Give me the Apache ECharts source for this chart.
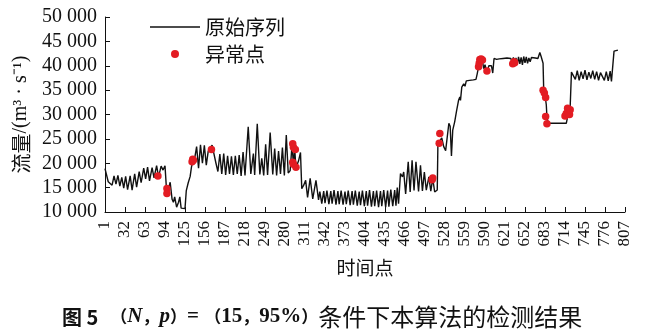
<!DOCTYPE html>
<html><head><meta charset="utf-8">
<script src="https://cdn.jsdelivr.net/npm/echarts@6/dist/echarts.min.js"></script>
<style>html,body{margin:0;padding:0;background:#fff;}#c{width:649px;height:336px;}</style>
</head><body><div id="c"></div>
<script>
// x-axis tick labels (time points)
const xTickLabels = [1,32,63,94,125,156,187,218,249,280,311,342,373,404,435,466,497,528,559,590,621,652,683,714,745,776,807];
// y-axis range
const yMin = 10000, yMax = 50000, yStep = 5000;
// original series: [time point, flow]
const flowSeries = [
[1,18900],[3,18700],[6,16200],[9,16600],[12,15500],[15,17400],[18,15700],[21,17500],[24,15300],[27,17100],[30,14900],[33,17300],[36,14600],[40,17400],[43,14500],[47,17800],[50,15100],[54,18300],[57,16000],[61,19000],[64,16800],[67,19200],[70,16400],[74,19100],[77,17000],[81,19500],[84,17200],[88,19400],[91,18600],[94,19500],
[96,15300],[99,14500],[102,16100],[105,12600],[107,12000],[109,13100],[112,11000],[115,12000],[117,13100],[119,10800],[125,10700],[127,14400],[130,16000],[133,17300],[135,19200],[137,20400],
[140,21000],[143,23400],[146,19000],[149,23800],[152,20000],[155,23700],[158,19600],[161,22500],[164,22600],[167,23700],[170,24000],[173,20000],[176,18300],[179,21900],[182,17800],[185,22000],[188,17600],[191,21500],[194,17800],[197,21400],[200,17600],[203,21500],[206,17800],[209,21700],[212,17400],[215,22300],[218,17500],[223,27500],[227,17800],[231,22000],[233,17600],[237,28100],[241,17700],[244,21000],[247,17500],[250,23900],[253,17600],[257,26300],[261,17700],[264,23000],[267,17500],[270,22500],[273,17800],
[276,23200],[279,17500],[282,25800],[285,18000],[288,18500],[291,24000],[293,19500],[295,23000],[297,19000],[299,18800],[301,20500],[304,22200],[306,14800],[309,15500],[312,16500],[315,13000],[319,16900],[323,12700],[328,16500],[332,12500],[334,14200],
[337,11700],[340,14300],[342,11800],[345,14400],[348,11600],[351,14300],[353,11700],[356,14500],[359,11500],[362,14300],[364,11600],[367,14400],[370,11500],[373,14200],[375,11600],[378,14400],[381,11400],[384,14300],[386,11500],[389,14400],[392,11300],[395,14200],[397,11400],[400,14400],[403,11200],[406,14300],[408,11300],[411,14500],[414,11100],[417,14300],[419,11200],[422,14400],[425,11000],[428,14300],[430,11200],[433,14500],[436,11000],[439,14400],[441,11100],[444,14600],[447,11200],[450,14500],[452,11300],[454,15000],[456,11700],
[459,17900],[462,17200],[464,18200],[467,13700],[471,20300],[474,14100],[477,20600],[480,14400],[483,20300],[487,14200],[490,19600],[493,14300],[496,18200],[499,14500],[503,17200],[506,14300],[509,16900],[512,14100],[516,14500],[517,24000],[520,23700],[523,25200],[526,23400],[529,22600],[532,23000],[534,28200],[536,27600],[538,21500],[540,26800],
[543,28500],[546,30800],[549,32900],[551,33600],[552,32900],[554,35600],[557,36300],[559,35800],[561,36900],[566,37000],[572,37100],[576,37200],[578,38400],[580,39800],[583,41500],[586,41000],[588,39400],[590,40200],[593,38700],[596,40000],[598,40400],[600,40000],[602,38500],[604,41500],[606,41800],[608,41300],[612,41400],[615,41100],[618,41500],[621,41300],[624,41600],[627,41200],[630,41500],[632,40800],[634,41700],[636,40500],[638,41600],[640,40300],[642,41800],[644,40400],[646,41700],[648,40200],[650,41900],[652,40600],[654,41800],[656,40500],[658,41600],[660,40800],[662,41700],[665,41400],[668,41600],[672,41500],[675,42700],[677,41900],[679,41500],
[680,40500],[681,35000],[683,34000],[685,32000],[686,29500],[688,28200],[716,28200],[718,29500],[720,31000],[722,31500],[724,38700],
[727,38900],[730,37200],[733,39000],[736,37000],[739,38800],[742,37300],[745,39100],[748,37100],[751,38700],[754,37400],[757,39000],[760,37200],[763,38800],[766,37000],[769,38600],[772,38900],[775,37000],[778,38800],[781,36900],[784,38900],[786,36800],[789,36800],[790,43000],[792,43300],[796,43200]
];
// detected anomaly points: [time point, flow]
const anomalyPoints = [
[83,17400],[97,14800],[97,13800],[136,20300],[137,20800],[138,20600],[166,22800],
[292,24000],[293,23300],[296,22800],[292,20200],[293,19800],[297,19200],
[508,16600],[509,17000],[519,24100],[520,26100],
[580,39800],[581,40500],[582,41300],[584,41400],[586,41200],[593,38900],
[633,40400],[635,40800],[636,40600],
[680,35000],[682,34400],[684,33500],[684,29600],[686,28100],
[714,29700],[716,30200],[718,31300],[719,30400],[721,30000],[722,31000]
];

const chart = echarts.init(document.getElementById('c'));
const serif = 'Liberation Serif';
const cjk = 'Noto Sans CJK SC';
chart.setOption({
  animation: false,
  backgroundColor: '#fff',
  grid: {left: 105, right: 24, top: 17, bottom: 124},
  legend: {
    orient: 'vertical', left: 145, top: 12, itemWidth: 50, itemHeight: 8, itemGap: 7,
    symbolKeepAspect: true,
    textStyle: {fontFamily: cjk, fontSize: 20, color: '#111', lineHeight: 20},
    data: [
      {name: '原始序列', icon: 'path://M0,0H50V1.4H0Z', itemStyle: {color: '#111'}},
      {name: '异常点', icon: 'circle', itemStyle: {color: '#e31c23'}}
    ]
  },
  xAxis: {
    type: 'value', min: 1, max: 807,
    splitLine: {show: false},
    axisLine: {lineStyle: {color: '#111', width: 1}},
    axisTick: {inside: true, length: 5, customValues: xTickLabels, lineStyle: {color: '#111'}},
    axisLabel: {customValues: xTickLabels, rotate: 90, margin: 9, fontFamily: serif, fontSize: 17, color: '#111'},
    name: '时间点', nameLocation: 'middle', nameGap: 46,
    nameTextStyle: {fontFamily: cjk, fontSize: 19, color: '#111'}
  },
  yAxis: {
    type: 'value', min: yMin, max: yMax, interval: yStep,
    splitLine: {show: false},
    axisLine: {show: true, lineStyle: {color: '#111', width: 1}},
    axisTick: {show: true, inside: true, length: 5, lineStyle: {color: '#111'}},
    axisLabel: {
      margin: 8, fontFamily: serif, fontSize: 20, color: '#111',
      formatter: v => { const s = String(v); return s.slice(0, s.length - 3) + ' ' + s.slice(-3); }
    },
    name: '{c|流量}{l|/(m³ · s⁻¹)}', nameLocation: 'middle', nameRotate: 90, nameGap: 72,
    nameTextStyle: {rich: {
      c: {fontFamily: cjk, fontSize: 20, color: '#111'},
      l: {fontFamily: serif, fontSize: 20, color: '#111'}
    }}
  },
  series: [
    {name: '原始序列', type: 'line', data: flowSeries, symbol: 'none', z: 2,
     lineStyle: {color: '#111', width: 1.4}, itemStyle: {color: '#111'}},
    {name: '异常点', type: 'scatter', data: anomalyPoints, symbol: 'circle', symbolSize: 7.5, z: 3,
     itemStyle: {color: '#e31c23', opacity: 1}}
  ],
  graphic: [{
    type: 'text', left: 62, top: 305,
    style: {
      text: '{h|图 5}{sp|}{cj|（}{i|N}{cj|，}{i|p}{cj|）}{b|= }{cj|（}{b|15}{cj|，}{b|95%}{cj|）}{r|条件下本算法的检测结果}',
      rich: {
        h: {fontFamily: cjk, fontSize: 20, fontWeight: 'bold', fill: '#111'},
        sp: {width: 12},
        b: {fontFamily: serif, fontSize: 21, fontWeight: 'bold', fill: '#111'},
        i: {fontFamily: serif, fontSize: 21, fontWeight: 'bold', fontStyle: 'italic', fill: '#111'},
        cj: {fontFamily: cjk, fontSize: 17, fontWeight: 'bold', fill: '#111'},
        r: {fontFamily: cjk, fontSize: 24, fill: '#111'}
      }
    }
  }]
});
</script>
</body></html>
